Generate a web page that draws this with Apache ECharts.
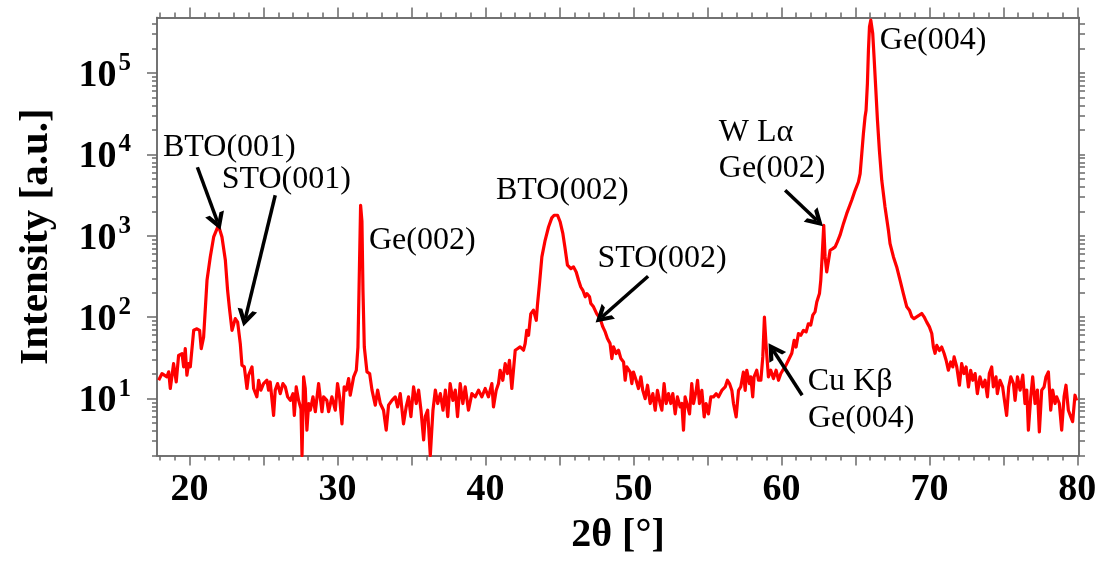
<!DOCTYPE html>
<html>
<head>
<meta charset="utf-8">
<script src="https://cdn.jsdelivr.net/npm/echarts@6/dist/echarts.min.js"></script>
<style>
  html, body { margin: 0; padding: 0; background: #ffffff; }
  #chart { width: 1101px; height: 565px; }
</style>
</head>
<body>
<div id="chart"></div>
<script>
// XRD scan: [2θ in degrees, intensity in a.u.]
const scan = [
  [17.91,16.8],[18.14,20.3],[18.47,18.5],[18.59,21.3],[18.70,13.3],[18.92,26.9],[19.10,16.0],[19.26,34],[19.49,35.7],[19.60,24.5],
  [19.71,41],[19.82,19.4],[19.94,26.9],[20.05,24.5],[20.28,69],[20.50,72],[20.68,69],[20.79,41],[20.95,57],[21.18,284],
  [21.40,550],[21.63,968],[21.95,1345],[22.19,968],[22.42,500],[22.57,214],[22.71,122],[22.87,69],[23.09,96],[23.25,87],
  [23.43,47],[23.54,25.7],[23.70,24.5],[23.88,13.3],[23.99,19.4],[24.22,24.5],[24.33,13.3],[24.55,10.5],[24.67,16.8],[24.82,12.7],
  [25.00,15.3],[25.23,16.8],[25.34,12.7],[25.45,16.0],[25.68,6.2],[25.79,12.7],[25.95,15.3],[26.13,11.5],[26.31,15.3],[26.47,13.9],
  [26.63,10.5],[26.81,9.5],[26.99,11.5],[27.08,6.2],[27.21,13.9],[27.37,9.5],[27.53,7.5],[27.60,2.0],[27.71,18.5],[27.82,13.3],
  [27.93,4.1],[28.05,8.7],[28.16,7.2],[28.34,10.5],[28.50,6.9],[28.72,15.3],[28.95,6.9],[29.06,10.5],[29.28,9.5],[29.40,6.9],
  [29.62,10.5],[29.85,7.2],[30.00,15.3],[30.14,10.5],[30.30,4.9],[30.45,13.9],[30.59,12.7],[30.75,17.6],[30.86,11],[31.09,18.5],
  [31.27,22.3],[31.38,43],[31.48,400],[31.56,2370],[31.65,1500],[31.72,214],[31.81,43],[31.99,21.3],[32.17,20.3],[32.33,12.7],
  [32.55,8.3],[32.71,12.7],[32.89,8.7],[33.11,7.2],[33.29,4.1],[33.45,8.3],[33.68,9.5],[33.90,10.5],[34.06,7.9],[34.24,11.5],
  [34.46,4.9],[34.64,7.9],[34.80,10.5],[34.96,6.0],[35.14,13.9],[35.32,8.7],[35.48,12.7],[35.64,7.2],[35.82,3.1],[35.93,6.0],
  [36.09,7.2],[36.27,2.0],[36.45,7.2],[36.61,12.7],[36.77,8.7],[36.95,11.5],[37.13,7.2],[37.29,12.7],[37.45,6.0],[37.61,15.3],
  [37.80,9.5],[37.96,12.7],[38.11,6.0],[38.29,15.3],[38.47,8.7],[38.63,13.9],[38.85,7.2],[39.08,11.5],[39.31,10.5],[39.53,12.7],
  [39.75,10.5],[39.98,13.3],[40.20,10.5],[40.43,15.3],[40.54,7.9],[40.72,12.6],[40.88,15.3],[40.99,22.3],[41.17,16.8],[41.33,26.9],
  [41.49,20.3],[41.62,29.5],[41.78,13.3],[41.89,22.3],[42.01,39.3],[42.16,41],[42.34,43.2],[42.57,39.3],[42.68,47.4],[42.79,69],
  [42.91,60],[43.06,110],[43.24,122],[43.43,91.6],[43.52,147],[43.65,258],[43.81,550],[44.03,880],[44.26,1282],[44.48,1660],
  [44.64,1787],[44.87,1787],[45.05,1475],[45.23,1062],[45.38,696],[45.54,435],[45.77,395],[45.95,415],[46.13,359],[46.29,284],
  [46.44,235],[46.58,214],[46.74,178],[46.85,195],[47.03,178],[47.12,147],[47.30,134],[47.52,110],[47.75,96],[47.93,76],
  [48.09,66],[48.24,54.6],[48.42,47.4],[48.54,31],[48.65,43.2],[48.83,35.7],[48.99,39.3],[49.15,31],[49.33,28.2],[49.44,16.8],
  [49.55,24.5],[49.78,21.2],[49.89,15.3],[50.00,21.2],[50.18,16.8],[50.34,13.3],[50.50,18.5],[50.63,12.6],[50.79,10],[50.95,14.6],
  [51.13,8.7],[51.31,11.5],[51.47,7.2],[51.62,12.6],[51.80,8.7],[51.92,7.2],[52.07,15.3],[52.21,8.7],[52.37,11.5],[52.52,8.7],
  [52.66,11.5],[52.82,6.5],[52.97,10.5],[53.15,7.9],[53.27,8.7],[53.38,4.1],[53.49,10.5],[53.61,8.7],[53.79,6.5],[53.94,15.3],
  [54.06,8.7],[54.24,12.6],[54.33,16.8],[54.46,8.7],[54.62,12.6],[54.78,5.95],[54.91,8.7],[55.07,6.5],[55.23,10.5],[55.41,10.5],
  [55.59,11.5],[55.75,10.5],[55.97,12.6],[56.20,13.9],[56.35,16.8],[56.49,15.3],[56.65,12.6],[56.76,8.7],[56.94,5.95],[57.10,12.6],
  [57.25,13.9],[57.43,21.2],[57.55,12.6],[57.66,22.3],[57.84,15.3],[57.93,18.5],[58.06,10.5],[58.15,18.5],[58.33,22.3],[58.45,16.8],
  [58.61,16.8],[58.74,32.5],[58.85,100.6],[58.97,43.2],[59.12,18.5],[59.28,22.3],[59.46,17.6],[59.64,22.3],[59.80,16.8],[59.96,20.3],
  [60.09,22.3],[60.25,24.5],[60.47,29.6],[60.70,36],[60.86,52],[60.99,43],[61.15,63],[61.31,60],[61.49,69],[61.67,66],
  [61.82,83],[61.98,80],[62.12,106],[62.27,116],[62.39,154],[62.57,195],[62.66,284],[62.75,550],[62.86,1346],[62.95,550],
  [63.06,360],[63.18,377],[63.29,664],[63.47,696],[63.63,730],[63.78,841],[63.96,1016],[64.19,1410],[64.41,1870],[64.75,2730],
  [64.98,3620],[65.20,4580],[65.32,5800],[65.43,10200],[65.54,18000],[65.65,28800],[65.72,34800],[65.81,74000],[65.88,190000],[65.95,368000],
  [66.04,445000],[66.17,305000],[66.26,157000],[66.37,67000],[66.49,26200],[66.62,11200],[66.78,4800],[67.00,2260],[67.23,1170],[67.34,802],
  [67.57,550],[67.79,414],[68.02,284],[68.24,195],[68.47,134],[68.65,122],[68.81,101],[68.96,96],[69.14,101],[69.32,106],
  [69.48,111],[69.64,101],[69.82,87],[70.00,76],[70.16,63],[70.27,43],[70.38,36],[70.50,45],[70.68,39],[70.83,43],
  [70.99,36],[71.13,29.6],[71.28,22.3],[71.44,28.2],[71.58,24.5],[71.67,32.5],[71.85,24.5],[72.03,14.6],[72.18,26.9],[72.34,20.3],
  [72.48,24.5],[72.64,13.9],[72.79,22.3],[72.93,16.8],[73.09,20.3],[73.24,11.5],[73.42,18.5],[73.60,13.9],[73.76,16.8],[73.92,10.5],
  [74.05,20.3],[74.21,24.5],[74.32,13.9],[74.50,18.5],[74.59,11.5],[74.77,16.8],[74.95,13.9],[75.04,10.5],[75.22,6.2],[75.36,13.9],
  [75.50,18.5],[75.68,15.3],[75.79,9.5],[75.95,18.5],[76.13,12.7],[76.31,19.4],[76.46,8.7],[76.58,12.7],[76.69,4.1],[76.85,10.5],
  [76.98,18.5],[77.14,8.7],[77.30,12.7],[77.43,3.9],[77.59,12.7],[77.75,13.9],[77.88,18.5],[78.04,21.3],[78.20,7.2],[78.33,12.7],
  [78.49,8.7],[78.60,10.5],[78.78,8.7],[78.94,4.1],[79.10,10.5],[79.23,14.6],[79.39,7.2],[79.55,6.0],[79.68,5.2],[79.84,11],
  [79.95,9.5]
];

// Axis ranges and tick values
const xRange = [17.8, 80.11];
const yRange = [2, 4.8e5];
const xLabelValues = [20, 30, 40, 50, 60, 70, 80];
const xMajorTicks = [20, 25, 30, 35, 40, 45, 50, 55, 60, 65, 70, 75, 80];
const yDecades = [10, 100, 1000, 10000, 100000];

// Peak names, anchored at [2θ, intensity] of the text centre
const peakLabels = [
  { text: 'BTO(001)', at: [22.69, 12200] },
  { text: 'STO(001)', at: [26.54, 4940] },
  { text: 'Ge(002)',  at: [35.73, 881] },
  { text: 'BTO(002)', at: [45.19, 3620] },
  { text: 'STO(002)', at: [51.94, 530] },
  { text: 'W Lα',     at: [58.29, 18700] },
  { text: 'Ge(002)',  at: [59.37, 6750] },
  { text: 'Ge(004)',  at: [70.25, 252000] },
  { text: 'Cu Kβ',    at: [64.64, 16.3] },
  { text: 'Ge(004)',  at: [65.39, 5.73] }
];

// Pointer arrows: [from, to] in [2θ, intensity]
const pointers = [
  [[20.53, 6950], [21.89, 1479]],
  [[25.79, 3147], [23.77, 96.9]],
  [[50.99, 318],  [47.87, 100.6]],
  [[60.25, 3620], [62.39, 1550]],
  [[61.40, 11.0], [59.44, 39.2]]
];

// Minor tick values: every degree along 2θ, 2..9 per decade on intensity
const xMinorTicks = [];
for (let v = 18; v <= 80; v++) xMinorTicks.push(v);
const yMinorTicks = [];
for (let d = 1; d <= 1e5; d *= 10) {
  for (let m = 2; m <= 9; m++) {
    const v = m * d;
    if (v >= yRange[0] && v <= yRange[1]) yMinorTicks.push(v);
  }
}

const SERIF = '"Liberation Serif", "Times New Roman", serif';
const FRAME = '#6a6a6a';

function frameAxis(kind, position, tickValues, tickLen, extra) {
  const base = {
    type: kind === 'x' ? 'value' : 'log',
    position: position,
    min: kind === 'x' ? xRange[0] : yRange[0],
    max: kind === 'x' ? xRange[1] : yRange[1],
    axisLine: { show: true, onZero: false, lineStyle: { color: FRAME, width: 1.5 } },
    axisTick: { show: true, inside: false, length: tickLen, customValues: tickValues,
                lineStyle: { color: FRAME, width: 1.5 } },
    axisLabel: { show: false },
    splitLine: { show: false },
    minorTick: { show: false }
  };
  if (kind === 'y') base.logBase = 10;
  return Object.assign(base, extra || {});
}

const xAxes = [
  frameAxis('x', 'bottom', xMajorTicks, 10, {
    axisLabel: {
      show: true, customValues: xLabelValues, margin: 16,
      color: '#000', fontFamily: SERIF, fontWeight: 'bold', fontSize: 38
    },
    name: '2θ [°]', nameLocation: 'middle', nameGap: 60,
    nameTextStyle: { color: '#000', fontFamily: SERIF, fontWeight: 'bold', fontSize: 40 }
  }),
  frameAxis('x', 'bottom', xMinorTicks, 5),
  frameAxis('x', 'top', xMajorTicks, 10),
  frameAxis('x', 'top', xMinorTicks, 5)
];

const yAxes = [
  frameAxis('y', 'left', yDecades, 10, {
    axisLabel: {
      show: true, customValues: yDecades, margin: 26,
      formatter: function (v) {
        return '{b|10}{s|' + Math.round(Math.log10(v)) + '}';
      },
      rich: {
        b: { fontFamily: SERIF, fontWeight: 'bold', fontSize: 38, color: '#000', lineHeight: 44, verticalAlign: 'bottom' },
        s: { fontFamily: SERIF, fontWeight: 'bold', fontSize: 25, color: '#000', lineHeight: 25, verticalAlign: 'top', padding: [0, 0, 0, 2] }
      }
    },
    name: 'Intensity [a.u.]', nameLocation: 'middle', nameGap: 100, nameRotate: 90,
    nameTextStyle: { color: '#000', fontFamily: SERIF, fontWeight: 'bold', fontSize: 41 }
  }),
  frameAxis('y', 'left', yMinorTicks, 5),
  frameAxis('y', 'right', yDecades, 6),
  frameAxis('y', 'right', yMinorTicks, 6)
];

// Open chevron arrow head pointing along the line
const chevron = 'path://M10,0 L20,14 L15.2,14 L10,6.8 L4.8,14 L0,14 Z';

const chart = echarts.init(document.getElementById('chart'), null, { renderer: 'canvas' });
chart.setOption({
  animation: false,
  backgroundColor: '#ffffff',
  grid: { left: 157, right: 22, top: 17.5, bottom: 109.5, containLabel: false, outerBoundsMode: 'none' },
  xAxis: xAxes,
  yAxis: yAxes,
  series: [
    {
      type: 'line',
      data: scan,
      xAxisIndex: 0,
      yAxisIndex: 0,
      showSymbol: false,
      symbol: 'none',
      clip: true,
      lineStyle: { color: '#ff0000', width: 3.2, join: 'round' },
      markLine: {
        silent: true,
        symbol: ['none', chevron],
        symbolSize: [20, 17],
        label: { show: false },
        lineStyle: { color: '#000000', width: 3.5, type: 'solid', opacity: 1 },
        itemStyle: { color: '#000000', opacity: 1 },
        emphasis: { disabled: true },
        data: pointers.map(function (p) {
          return [{ coord: p[0] }, { coord: p[1] }];
        })
      }
    },
    {
      type: 'scatter',
      xAxisIndex: 0,
      yAxisIndex: 0,
      symbolSize: 0,
      silent: true,
      itemStyle: { opacity: 1, color: '#000000' },
      data: peakLabels.map(function (p) { return { value: p.at, name: p.text }; }),
      label: {
        show: true,
        position: 'inside',
        formatter: '{b}',
        color: '#000000',
        opacity: 1,
        textBorderWidth: 0,
        fontFamily: SERIF,
        fontSize: 32
      }
    }
  ]
});
</script>
</body>
</html>
